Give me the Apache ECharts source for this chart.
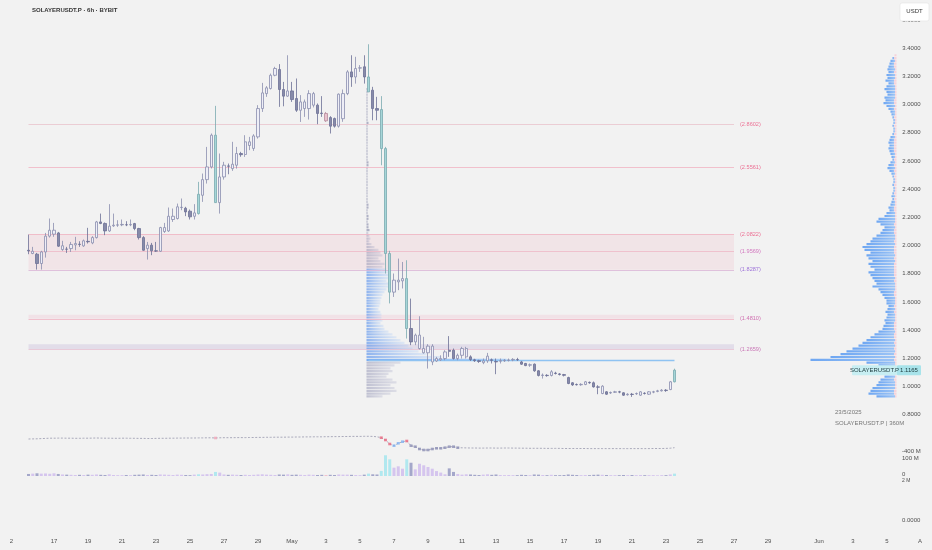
<!DOCTYPE html>
<html>
<head>
<meta charset="utf-8">
<title>SOLAYERUSDT.P · 6h · BYBIT</title>
<script src="https://cdn.jsdelivr.net/npm/echarts@6/dist/echarts.min.js"></script>
<style>
html,body{margin:0;padding:0;background:#f2f2f2;}
#chart{width:932px;height:550px;}
</style>
</head>
<body>
<div id="chart"></div>
<script>
// ---------------- DATA ----------------
const firstCandleTime = '2025-04-15 12:00';

const opens = [
1.967,1.944,1.939,1.873,1.955,2.067,2.081,2.090,1.972,1.975,
1.979,2.005,2.010,1.998,2.030,2.019,2.057,2.168,2.157,2.104,
2.140,2.145,2.147,2.148,2.147,2.156,2.121,2.057,1.979,2.003,
1.963,1.960,2.100,2.104,2.185,2.192,2.270,2.265,2.244,2.208,
2.227,2.357,2.468,2.558,2.783,2.305,2.487,2.565,2.546,2.570,
2.653,2.646,2.710,2.689,2.771,2.972,3.078,3.114,3.208,3.249,
3.107,3.060,3.097,3.043,2.960,2.972,2.972,2.996,2.996,2.940,
2.937,2.908,2.901,2.847,2.900,3.078,3.232,3.196,3.259,3.268,
3.196,3.102,2.972,2.965,2.688,1.944,1.670,1.743,1.750,1.766,
1.412,1.317,1.365,1.270,1.240,1.287,1.199,1.190,1.199,1.250,
1.258,1.199,1.222,1.270,1.211,1.190,1.184,1.170,1.183,1.190,
1.178,1.180,1.183,1.186,1.189,1.192,1.175,1.164,1.152,1.159,
1.112,1.079,1.080,1.079,1.096,1.090,1.085,1.064,1.027,1.015,
1.013,1.015,1.030,1.027,0.998,0.951,0.963,0.955,0.960,0.963,
0.956,0.942,0.946,0.949,0.939,0.953,0.946,0.961,0.966,0.970,
0.975,0.979,1.034];

const closes = [
1.962,1.960,1.873,1.955,2.067,2.109,2.109,1.996,1.999,1.974,
2.008,2.015,2.008,2.034,2.027,2.057,2.168,2.157,2.104,2.138,
2.145,2.147,2.150,2.147,2.150,2.121,2.057,1.967,2.003,1.963,
1.961,2.128,2.128,2.208,2.208,2.275,2.272,2.239,2.204,2.232,
2.364,2.468,2.558,2.783,2.305,2.487,2.570,2.563,2.577,2.653,
2.645,2.736,2.736,2.778,2.972,3.083,3.119,3.208,3.256,3.107,
3.060,3.097,3.036,2.960,3.019,3.019,3.078,3.078,2.937,2.937,
2.885,2.847,2.847,3.074,3.078,3.232,3.196,3.256,3.261,3.196,
3.090,2.972,2.960,2.688,1.944,1.670,1.755,1.755,1.766,1.412,
1.317,1.365,1.270,1.240,1.287,1.175,1.182,1.199,1.246,1.258,
1.199,1.222,1.270,1.211,1.192,1.184,1.178,1.182,1.216,1.186,
1.175,1.184,1.186,1.189,1.193,1.190,1.159,1.149,1.155,1.112,
1.079,1.082,1.078,1.105,1.093,1.086,1.080,1.022,1.012,1.013,
1.016,1.034,1.027,0.998,0.996,1.003,0.946,0.958,0.963,0.961,
0.939,0.946,0.944,0.951,0.963,0.951,0.963,0.963,0.970,0.975,
0.972,1.034,1.1165];

const lows = [
1.939,1.939,1.830,1.830,1.915,2.057,2.062,1.991,1.963,1.948,
1.955,1.967,1.991,1.991,2.015,2.010,2.050,2.152,2.074,2.097,
2.133,2.133,2.138,2.138,2.138,2.109,2.043,1.963,1.901,1.932,
1.955,1.955,2.090,2.097,2.168,2.185,2.251,2.209,2.185,2.185,
2.220,2.310,2.440,2.547,2.303,2.227,2.468,2.506,2.530,2.546,
2.630,2.629,2.677,2.672,2.759,2.948,3.055,3.107,3.201,2.984,
2.988,3.055,3.019,2.948,2.877,2.913,2.894,2.980,2.861,2.913,
2.877,2.795,2.837,2.837,2.878,3.067,3.126,3.149,3.232,3.149,
3.090,2.889,2.889,2.570,1.802,1.590,1.636,1.684,1.696,1.341,
1.294,1.294,1.263,1.234,1.128,1.152,1.175,1.182,1.187,1.211,
1.192,1.187,1.199,1.199,1.182,1.175,1.168,1.159,1.168,1.164,
1.088,1.164,1.175,1.178,1.180,1.182,1.154,1.145,1.140,1.105,
1.072,1.057,1.070,1.072,1.086,1.079,1.072,1.017,1.005,1.008,
1.006,1.010,1.020,0.993,0.946,0.946,0.941,0.948,0.955,0.953,
0.934,0.936,0.927,0.941,0.934,0.944,0.941,0.953,0.960,0.965,
0.963,0.975,1.030];

const highs = [
2.078,1.991,1.948,1.963,2.090,2.192,2.161,2.097,2.034,1.991,
2.026,2.062,2.031,2.043,2.126,2.067,2.175,2.227,2.164,2.294,
2.227,2.180,2.185,2.173,2.185,2.161,2.126,2.067,2.026,2.019,
2.026,2.133,2.161,2.270,2.263,2.298,2.334,2.275,2.256,2.294,
2.452,2.511,2.700,2.795,2.991,2.653,2.594,2.582,2.736,2.700,
2.665,2.783,2.771,2.790,2.996,3.154,3.131,3.220,3.268,3.287,
3.161,3.350,3.161,3.185,3.067,3.036,3.102,3.090,3.008,3.060,
2.948,2.918,2.908,3.079,3.107,3.244,3.350,3.339,3.280,3.350,
3.428,3.126,3.055,3.060,2.700,1.963,1.802,1.908,1.884,1.896,
1.624,1.376,1.499,1.353,1.301,1.301,1.211,1.222,1.258,1.358,
1.270,1.234,1.282,1.282,1.222,1.197,1.190,1.199,1.239,1.199,
1.199,1.199,1.195,1.199,1.202,1.204,1.182,1.168,1.164,1.164,
1.117,1.093,1.088,1.117,1.105,1.096,1.090,1.070,1.032,1.022,
1.024,1.040,1.036,1.036,1.010,1.010,0.968,0.965,0.970,0.970,
0.960,0.953,0.955,0.958,0.968,0.960,0.968,0.970,0.977,0.982,
0.982,1.040,1.127];

// candle colour class (u hollow, d dark, t teal, p pink) – one letter per candle
const candleTone = ('duduuuudud'+'uududuuddu'+'uuududddud'+'duuuuuuddu'+
  'tuuutuuduu'+'duuuuuuuud'+'dudduuuudd'+'pdduuuduud'+'tddtttuuut'+'duuuuuuuud'+
  'duuuddduud'+'duuuudddud'+'dududddddd'+'uuddduduud'+'duduuduuuu'+'dut').split('');

// volume (millions)
const volumes = [
12,14,16,14,15,13,16,12,9,8,
7,6,7,6,8,7,9,7,6,10,
6,5,5,6,5,7,8,9,6,7,
6,9,8,7,6,8,7,6,5,8,
10,9,11,12,24,20,9,7,8,7,
6,7,6,7,9,10,8,7,6,9,
8,10,7,8,7,6,8,7,6,7,
6,7,6,9,8,8,7,6,5,8,
14,10,9,30,122,98,49,57,43,98,
78,39,72,63,53,43,29,20,10,45,
24,12,8,10,9,7,6,8,10,7,
9,6,5,6,5,5,7,6,5,9,
8,6,5,7,5,5,6,9,7,6,
5,6,5,7,8,7,6,5,5,5,
6,5,6,5,6,5,5,5,4,5,
5,9,14];

// cumulative flow indicator (millions)
const flowValues = [
-280,-279,-278,-276,-274,-272,-272,-271,-271,-272,
-272,-273,-273,-272,-272,-271,-270,-271,-272,-272,
-273,-273,-272,-272,-273,-273,-274,-274,-275,-275,
-274,-273,-273,-272,-272,-271,-271,-270,-270,-270,
-269,-269,-268,-268,-270,-268,-267,-267,-267,-266,
-266,-266,-265,-265,-264,-264,-263,-263,-262,-262,
-262,-261,-261,-260,-260,-259,-259,-258,-258,-258,
-257,-257,-256,-256,-255,-255,-254,-254,-254,-253,
-253,-254,-258,-267,-290,-330,-347,-323,-307,-300,
-347,-357,-380,-390,-390,-380,-373,-373,-367,-357,
-357,-367,-368,-369,-370,-370,-371,-371,-370,-370,
-371,-371,-370,-370,-371,-371,-372,-372,-373,-373,
-373,-373,-374,-374,-374,-374,-375,-375,-375,-375,
-375,-375,-376,-376,-376,-376,-376,-376,-376,-376,
-376,-376,-376,-376,-376,-376,-376,-375,-375,-375,
-374,-372,-367];
const flowMarkCandles = [45,84,85,86,87,88,89,90,91,92,93,94,95,96,97,98,99,100,101,102];
const flowMarkTone = 'prrrbbbrssssssssssss'.split('');

// horizontal levels and zones
const levels = [2.8602, 2.5561, 2.0822, 1.9569, 1.8287, 1.4810, 1.2659];
const zones = [[2.0822, 1.8287], [1.5100, 1.4810], [1.3000, 1.2659]];
const pocPrice = 1.185;
const pocStartCandle = 81;

// volume profiles: bins of 0.02 going down from the top price
const rightProfileTop = 3.36;
const rightProfileVol = [
2,4,6,
7,8,9,8,10, 9,11,8,10,12, 10,9,12,11,13, 10,8,6,5,4, 3,3,4,3,3,
4,6,7,8,7, 8,7,6,5,4, 6,8,9,7,5, 4,3,3,4,3, 3,4,5,4,5, 6,8,7,10,12,
18,20,16,12,14, 16,20,24,26,30, 34,32,26,30,28, 24,28,26,22,28, 26,24,22,20,24,
18,16,14,12,10, 10,8,9,11,9, 10,12,11,13,14, 18,22,26,30,34, 38,44,50,56,66,
86,
30,18,14,16, 14,12,16,18,20, 24,26,28,20];
const leftProfileTop = 3.30;
const leftProfileVol = [
0,0,0,0,0,0,0,0,0,1,1,1,
1,1,1,1,1,1,1,1,1,2,
1,1,1,1,1,1,1,1,1,1,
1,1,1,2,2,1,1,1,1,1,
1,1,1,1,1,1,1,1,2,2,
1,1,2,2,1,2,2,3,
2,3,4,3,5, 8,12,14,16,12, 14,18,16,20,22, 24,22,20,24,22, 20,18,16,15,14,
14,13,12,14,15, 15,16,14,17,18, 22,26,30,34,38, 42,46,52,60,75,
140,
34,28,24,26, 22,20,26,30,24, 28,30,24,16];

// axis ticks
const tickDates = ['2025-04-14 12:00','2025-04-17 00:00','2025-04-19 00:00','2025-04-21 00:00','2025-04-23 00:00',
 '2025-04-25 00:00','2025-04-27 00:00','2025-04-29 00:00','2025-05-01 00:00','2025-05-03 00:00','2025-05-05 00:00',
 '2025-05-07 00:00','2025-05-09 00:00','2025-05-11 00:00','2025-05-13 00:00','2025-05-15 00:00','2025-05-17 00:00',
 '2025-05-19 00:00','2025-05-21 00:00','2025-05-23 00:00','2025-05-25 00:00','2025-05-27 00:00','2025-05-29 00:00',
 '2025-06-01 00:00','2025-06-03 00:00','2025-06-05 00:00'];
const tickTexts = ['2','17','19','21','23','25','27','29','May','3','5','7','9','11','13','15','17','19','21','23','25','27','29','Jun','3','5'];
const levelEndTime = '2025-05-27 00:00';

// ---------------- BUILD ----------------
const slotStartUTC = Date.UTC(2025, 3, 14, 0, 0);
const slotCount = 210;
const categories = [];
for (let i = 0; i < slotCount; i++) {
  const d = new Date(slotStartUTC + i * 6 * 3600 * 1000);
  categories.push(d.toISOString().slice(0, 16).replace('T', ' '));
}
const tickMap = new Map(tickDates.map((d, i) => [d, tickTexts[i]]));
const firstSlot = categories.indexOf(firstCandleTime);
const lastSlot = firstSlot + opens.length - 1;
const levelEndSlot = categories.indexOf(levelEndTime);

const toneStyle = {
  u: {fill: '#eeeef7', line: '#8a8eae'},
  d: {fill: '#878ba9', line: '#6c7096'},
  t: {fill: '#a6d6d8', line: '#7aa9b0'},
  p: {fill: '#e9c3cf', line: '#b68a9c'}
};
const candleData = opens.map((o, i) => {
  const s = toneStyle[candleTone[i]] || toneStyle.u;
  return {value: [firstSlot + i, o, closes[i], lows[i], highs[i]],
    itemStyle: {color: s.fill, color0: s.fill, borderColor: s.line, borderColor0: s.line, borderWidth: 0.8}};
});
const volColor = {u: '#d5c5ee', d: '#a4a7ca', t: '#b1e8ef', p: '#f1c3ce'};
const volData = volumes.map((v, i) => ({value: [firstSlot + i, v], itemStyle: {color: volColor[candleTone[i]] || '#c4c4dc'}}));
const flowData = flowValues.map((v, i) => [firstSlot + i, v]);
const markColor = {p: '#f0a6b8', r: '#e8677e', b: '#7fb0f0', s: '#8c8fb5'};
const flowMarks = flowMarkCandles.map((n, k) => ({value: [firstSlot + n - 1, flowValues[n - 1]], itemStyle: {color: markColor[flowMarkTone[k]]}}));

function toBins(top, vols) {
  return vols.map((v, i) => [+(top - 0.02 * i).toFixed(2), +(top - 0.02 * (i + 1)).toFixed(2), v]);
}
const leftBins = toBins(leftProfileTop, leftProfileVol);
const rightBins = toBins(rightProfileTop, rightProfileVol);

const levelLineColors = ['#e9c3cc','#f0b3c2','#f0b3c2','#efb7c6','#d9b4d6','#f0b3c2','#e6bfd0'];
const levelLabelColors = ['#ec7396','#ec6f93','#ec6f93','#d277bf','#9d72d9','#d06fb0','#c976b6'];
const zoneColors = ['rgba(240,196,204,0.30)','rgba(240,190,204,0.30)','rgba(206,196,222,0.45)'];

function grad(c0, c1) {
  return {type: 'linear', x: 0, y: 0, x2: 1, y2: 0, colorStops: [{offset: 0, color: c0}, {offset: 1, color: c1}]};
}
function leftRender(params, api) {
  const top = api.value(0), bot = api.value(1), v = api.value(2);
  if (!v) return null;
  const a = api.coord([0, top]), b = api.coord([v, bot]);
  let fill;
  if (bot >= 1.179 && top <= 1.201) fill = grad('rgba(100,160,242,0.85)', 'rgba(160,200,248,0.75)');
  else if (bot >= 1.199 && top <= 1.841) fill = grad('rgba(80,140,236,0.62)', 'rgba(150,190,248,0.22)');
  else if (top > 2.101) fill = 'rgba(120,124,160,0.55)';
  else fill = grad('rgba(140,142,176,0.50)', 'rgba(170,172,200,0.30)');
  return {type: 'rect', shape: {x: a[0], y: a[1] + 0.3, width: b[0] - a[0], height: Math.max(0.8, b[1] - a[1] - 0.6)}, style: {fill}};
}
function rightRender(params, api) {
  const top = api.value(0), bot = api.value(1), v = api.value(2);
  if (!v) return null;
  const a = api.coord([0, top]), b = api.coord([v, bot]);
  const w = a[0] - b[0];
  const off = Math.max(0, 1 - 2 / w);
  return {type: 'rect', shape: {x: b[0], y: a[1] + 0.3, width: w, height: Math.max(0.8, b[1] - a[1] - 0.6)},
    style: {fill: {type: 'linear', x: 0, y: 0, x2: 1, y2: 0, colorStops: [
      {offset: 0, color: '#6fa7f2'}, {offset: off, color: '#9cc4f6'}, {offset: off, color: '#f6d3da'}, {offset: 1, color: '#f6d3da'}]}}};
}

const chart = echarts.init(document.getElementById('chart'));
const FONT = '"Liberation Sans", Arial, sans-serif';
const option = {
  backgroundColor: '#f2f2f2',
  animation: false,
  textStyle: {fontFamily: FONT},
  grid: [
    {left: 3, right: 40.75, top: 20, height: 394.8},
    {left: 3, right: 40.75, top: 425, height: 51},
    {left: 366.5, width: 160, top: 20, height: 394.8},
    {left: 796.5, width: 100, top: 20, height: 394.8}
  ],
  xAxis: [
    {type: 'category', gridIndex: 0, data: categories, boundaryGap: false,
     axisLine: {show: false}, axisTick: {show: false}, axisLabel: {show: false}, splitLine: {show: false}},
    {type: 'category', gridIndex: 1, data: categories, boundaryGap: false,
     axisLine: {show: false}, axisTick: {show: false}, splitLine: {show: false},
     axisLabel: {show: true, interval: (i, v) => tickMap.has(v), formatter: v => tickMap.get(v) || '',
       margin: 62, fontSize: 6, color: '#4f4f4f', fontFamily: FONT}},
    {type: 'value', gridIndex: 2, min: 0, max: 160, show: false},
    {type: 'value', gridIndex: 3, min: 0, max: 100, inverse: true, show: false}
  ],
  yAxis: [
    {type: 'value', gridIndex: 0, position: 'right', min: 0.8, max: 3.6, interval: 0.2,
     axisLine: {show: false}, axisTick: {show: false}, splitLine: {show: false},
     axisLabel: {margin: 11, fontSize: 6, color: '#4f4f4f', fontFamily: FONT, formatter: v => v.toFixed(4)}},
    {type: 'value', gridIndex: 1, min: 0, max: 300, show: false},
    {type: 'value', gridIndex: 1, min: -650, max: -140, show: false},
    {type: 'value', gridIndex: 2, min: 0.8, max: 3.6, show: false},
    {type: 'value', gridIndex: 3, min: 0.8, max: 3.6, show: false}
  ],
  series: [
    {type: 'custom', name: 'anchoredProfile', xAxisIndex: 2, yAxisIndex: 3, data: leftBins,
     encode: {x: 2, y: [0, 1]}, renderItem: leftRender, silent: true, z: 1, clip: false},
    {type: 'custom', name: 'visibleProfile', xAxisIndex: 3, yAxisIndex: 4, data: rightBins,
     encode: {x: 2, y: [0, 1]}, renderItem: rightRender, silent: true, z: 1, clip: false},
    {type: 'candlestick', name: 'SOLAYERUSDT.P', xAxisIndex: 0, yAxisIndex: 0, data: candleData,
     encode: {x: 0, y: [1, 2, 3, 4]}, barWidth: 2.8, z: 5, silent: true,
     markArea: {silent: true, z: 1,
       data: zones.map((zn, i) => [{coord: [firstSlot, zn[0]], itemStyle: {color: zoneColors[i]}}, {coord: [levelEndSlot, zn[1]]}])},
     markLine: {silent: true, symbol: ['none', 'none'], animation: false, precision: 4,
       lineStyle: {width: 0.8, type: 'solid'},
       data: levels.map((lv, i) => [
         {coord: [firstSlot, lv], lineStyle: {color: levelLineColors[i], width: 0.8, type: 'solid'},
          label: {show: true, position: 'end', formatter: '(' + lv.toFixed(4) + ')', color: levelLabelColors[i], fontSize: 5.6, distance: 6, fontFamily: FONT}},
         {coord: [levelEndSlot, lv]}
       ]).concat([[
         {coord: [firstSlot + pocStartCandle - 1, pocPrice], lineStyle: {color: '#8fc3f2', width: 1.3, type: 'solid'}, label: {show: false}},
         {coord: [lastSlot, pocPrice]}
       ]])}},
    {type: 'bar', name: 'Volume', xAxisIndex: 1, yAxisIndex: 1, data: volData, encode: {x: 0, y: 1},
     barWidth: 3, silent: true, z: 2},
    {type: 'line', name: 'Flow', xAxisIndex: 1, yAxisIndex: 2, data: flowData, showSymbol: false,
     lineStyle: {color: '#a2a2b4', width: 0.9, type: [2, 1.6]}, silent: true, z: 3},
    {type: 'scatter', name: 'FlowMarks', xAxisIndex: 1, yAxisIndex: 2, data: flowMarks,
     symbol: 'rect', symbolSize: [3, 2.6], silent: true, z: 4}
  ]
};
chart.setOption(option);

const tagY = chart.convertToPixel({yAxisIndex: 0}, closes[closes.length - 1]);
function txt(x, y, text, extra) {
  return {type: 'text', x: x, y: y, z: 100, silent: true,
    style: Object.assign({text: text, fill: '#4f4f4f', font: '6px ' + FONT, align: 'left', verticalAlign: 'middle'}, extra || {})};
}
chart.setOption({graphic: [
  txt(32, 10, 'SOLAYERUSDT.P · 6h · BYBIT', {fill: '#333', font: 'bold 6px ' + FONT}),
  {type: 'rect', z: 100, silent: true, shape: {x: 900, y: 3, width: 29, height: 18, r: 2}, style: {fill: '#ffffff', stroke: '#e2e2e2', lineWidth: 0.6}},
  txt(914.5, 11, 'USDT', {align: 'center', fill: '#333'}),
  txt(920, 541, 'A', {align: 'center'}),
  txt(902, 520, '0.0000'),
  txt(902, 451, '-400 M'),
  txt(902, 458, '100 M'),
  txt(902, 474, '0'),
  txt(902, 481, '2 M', {font: '5px ' + FONT}),
  txt(835, 412, '23/5/2025', {fill: '#777'}),
  txt(835, 423, 'SOLAYERUSDT.P | 360M', {fill: '#777'}),
  {type: 'rect', z: 100, silent: true, shape: {x: 852, y: tagY - 5, width: 45, height: 10, r: 1}, style: {fill: '#c7eef2'}},
  {type: 'rect', z: 100, silent: true, shape: {x: 897, y: tagY - 5, width: 24, height: 10, r: 1}, style: {fill: '#a8e3ea'}},
  txt(874.5, tagY, 'SOLAYERUSDT.P', {align: 'center', fill: '#1d3b3e'}),
  txt(909, tagY, closes[closes.length - 1].toFixed(4), {align: 'center', fill: '#1d3b3e'})
]});
</script>
</body>
</html>
